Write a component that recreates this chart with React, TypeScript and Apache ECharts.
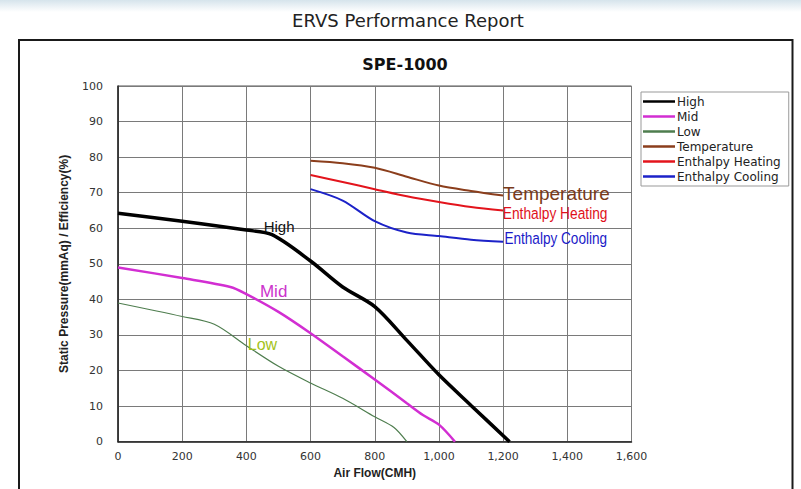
import React, { useEffect, useRef } from "react";
import * as echarts from "echarts";

const chartTitle = "ERVS Performance Report";
const modelName = "SPE-1000";
const xAxisName = "Air Flow(CMH)";
const yAxisName = "Static Pressure(mmAq) / Efficiency(%)";

const seriesNames = ["High", "Mid", "Low", "Temperature", "Enthalpy Heating", "Enthalpy Cooling"];

const highX = [0, 200, 400, 480, 600, 700, 800, 900, 1000, 1100, 1220];
const highY = [64.2, 62, 59.5, 58.2, 50.8, 43.5, 38, 28.5, 18.8, 10.2, 0];

const midX = [0, 200, 350, 400, 500, 600, 700, 800, 900, 950, 1000, 1050];
const midY = [49, 46, 43.5, 41.5, 36.5, 30.5, 24, 17.5, 10.8, 7.5, 4.8, 0];

const lowX = [0, 200, 300, 400, 500, 600, 700, 800, 860, 900];
const lowY = [39, 35.2, 33, 27, 21.2, 16.5, 12.2, 7, 4, 0];

const tempX = [600, 700, 800, 900, 1000, 1100, 1200];
const tempY = [79, 78.3, 77, 74.5, 72, 70.5, 69.2];

const heatX = [600, 700, 800, 900, 1000, 1100, 1200];
const heatY = [75, 73, 71, 69, 67.4, 66, 65];

const coolX = [600, 700, 800, 900, 1000, 1100, 1200];
const coolY = [71, 67.8, 62, 58.8, 57.8, 56.8, 56.2];

// in-plot curve labels (centre of text, in data units)
const curveLabelX = [502, 485, 450, 1366, 1362, 1364];
const curveLabelY = [60.6, 42.2, 27.2, 69.8, 64.2, 57.2];

const xTicks = [0, 200, 400, 600, 800, 1000, 1200, 1400, 1600];
const yTicks = [0, 10, 20, 30, 40, 50, 60, 70, 80, 90, 100];

const zip = (xs: number[], ys: number[]) => xs.map((x, i) => [x, ys[i]]);

const ARIAL = "'Liberation Sans', Arial, sans-serif";
const WIDE = "'DejaVu Sans', sans-serif";

export default function App() {
  const ref = useRef<HTMLDivElement>(null);

  useEffect(() => {
    if (!ref.current) return;
    const chart = echarts.init(ref.current, null, { renderer: "svg" });

    const colors = ["#000000", "#d22ed2", "#4e7d4e", "#8b3e1c", "#e3141c", "#1c22c8"];
    const widths = [3.5, 2.5, 1.2, 2, 2, 2];
    const labelColors = ["#111111", "#cc33cc", "#a3c21a", "#7a3a1a", "#e0101a", "#1a1ac8"];
    const labelSizes = [15, 17, 16, 19, 17, 17];
    const labelScaleX = [1, 1, 1, 1, 0.81, 0.8];
    const datasets = [
      zip(highX, highY),
      zip(midX, midY),
      zip(lowX, lowY),
      zip(tempX, tempY),
      zip(heatX, heatY),
      zip(coolX, coolY),
    ];

    const series = seriesNames.map((name, i) => ({
      name,
      type: "line",
      data: datasets[i],
      smooth: 0.3,
      symbol: "none",
      color: colors[i],
      lineStyle: { color: colors[i], width: widths[i] },
      z: 3,
    }));

    const baseGraphic: any[] = [
      {
        type: "rect",
        shape: { x: 0, y: 0, width: 801, height: 12 },
        style: {
          fill: new echarts.graphic.LinearGradient(0, 0, 0, 1, [
            { offset: 0, color: "#d6e4ec" },
            { offset: 1, color: "#ffffff" },
          ]),
        },
        silent: true,
        z: -10,
      },
      {
        type: "rect",
        shape: { x: 19, y: 40, width: 773.5, height: 470 },
        style: { fill: "none", stroke: "#1a1a1a", lineWidth: 2 },
        silent: true,
        z: -5,
      },
      {
        type: "text",
        x: 408,
        y: 20,
        style: {
          text: chartTitle,
          fill: "#222222",
          fontSize: 18,
          fontFamily: WIDE,
          align: "center",
          verticalAlign: "middle",
        },
      },
      {
        type: "text",
        x: 405,
        y: 64,
        style: {
          text: modelName,
          fill: "#111111",
          fontSize: 16,
          fontWeight: "bold",
          fontFamily: WIDE,
          align: "center",
          verticalAlign: "middle",
        },
      },
    ];

    chart.setOption({
      animation: false,
      backgroundColor: "#ffffff",
      graphic: baseGraphic,
      legend: {
        orient: "vertical",
        left: 641,
        top: 92,
        data: seriesNames,
        icon: "rect",
        itemWidth: 32,
        itemHeight: 2.5,
        itemGap: 2,
        padding: [3, 8, 3, 2],
        borderColor: "#999999",
        borderWidth: 1,
        backgroundColor: "#ffffff",
        textStyle: { fontSize: 12, lineHeight: 13, color: "#222222", fontFamily: WIDE, padding: [0, 0, 0, -3] },
      },
      grid: {
        left: 118,
        top: 86,
        right: 169.5,
        bottom: 47.3,
        show: true,
        borderColor: "#555555",
        borderWidth: 1,
        backgroundColor: "#ffffff",
      },
      xAxis: {
        type: "value",
        min: xTicks[0],
        max: xTicks[xTicks.length - 1],
        interval: xTicks[1] - xTicks[0],
        name: xAxisName,
        nameLocation: "middle",
        nameGap: 25,
        nameTextStyle: { fontSize: 12, fontWeight: "bold", color: "#222222", fontFamily: ARIAL },
        axisLine: { show: true, lineStyle: { color: "#222222", width: 1.5 } },
        axisTick: { show: false },
        axisLabel: {
          margin: 9,
          fontSize: 11,
          color: "#333333",
          fontFamily: WIDE,
          formatter: (v: number) => v.toLocaleString("en-US"),
        },
        splitLine: { show: true, lineStyle: { color: "#7a7a7a", width: 1 } },
      },
      yAxis: {
        type: "value",
        min: yTicks[0],
        max: yTicks[yTicks.length - 1],
        interval: yTicks[1] - yTicks[0],
        name: yAxisName,
        nameLocation: "middle",
        nameGap: 48,
        nameTextStyle: { fontSize: 12, fontWeight: "bold", color: "#222222", fontFamily: ARIAL },
        axisLine: { show: true, lineStyle: { color: "#222222", width: 1.5 } },
        axisTick: { show: false },
        axisLabel: { margin: 15, fontSize: 11, color: "#333333", fontFamily: WIDE },
        splitLine: { show: true, lineStyle: { color: "#7a7a7a", width: 1 } },
      },
      series,
    });

    const labelGraphics = seriesNames.map((name, i) => {
      const p = chart.convertToPixel({ gridIndex: 0 }, [curveLabelX[i], curveLabelY[i]]) as number[];
      return {
        type: "text",
        x: p[0],
        y: p[1],
        scaleX: labelScaleX[i],
        z: 10,
        silent: true,
        style: {
          text: name,
          fill: labelColors[i],
          fontSize: labelSizes[i],
          fontFamily: ARIAL,
          align: "center",
          verticalAlign: "middle",
        },
      };
    });

    chart.setOption({ graphic: [...baseGraphic, ...labelGraphics] });

    return () => chart.dispose();
  }, []);

  return (
    <div
      ref={ref}
      style={{ position: "absolute", left: 0, top: 0, width: 801, height: 489 }}
    />
  );
}
